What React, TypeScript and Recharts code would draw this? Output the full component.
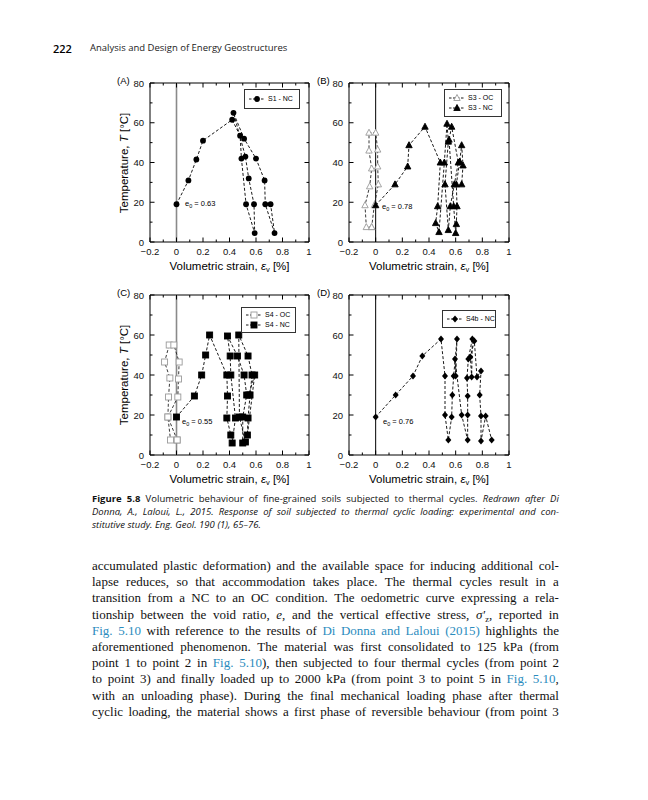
import React from 'react';
import { ScatterChart, Scatter, XAxis, YAxis, ReferenceLine, ReferenceArea } from 'recharts';

// ---------- axes ----------
const xTicks = [-0.2, -0.1, 0, 0.1, 0.2, 0.3, 0.4, 0.5, 0.6, 0.7, 0.8, 0.9, 1];
const yTicks = [0, 10, 20, 30, 40, 50, 60, 70, 80];

// ---------- data: [volumetric strain %, temperature °C] ----------
const s1NC: [number, number][] = [
  [0, 19], [0.09, 31], [0.15, 41.5], [0.2, 51], [0.42, 61.5], [0.48, 53.5], [0.49, 42],
  [0.525, 19], [0.59, 4.5], [0.585, 19], [0.545, 32], [0.52, 43], [0.43, 65], [0.51, 52],
  [0.6, 42], [0.665, 31], [0.67, 19], [0.74, 4.5], [0.71, 19],
];
const s3OC: [number, number][] = [
  [-0.03, 7.5], [-0.07, 7.5], [-0.08, 18.5], [-0.045, 28], [-0.03, 37], [-0.05, 46], [-0.05, 55],
  [0, 55], [0.015, 46.5], [0.015, 38], [0.02, 29], [-0.01, 18.5], [-0.03, 7.5],
];
const s3NC: [number, number][] = [
  [0, 18.5], [0.145, 29], [0.24, 38], [0.25, 48.7], [0.37, 58], [0.485, 40], [0.465, 18],
  [0.45, 9.5], [0.475, 5], [0.515, 40], [0.535, 59.5], [0.545, 50.5], [0.52, 29], [0.545, 6],
  [0.56, 18], [0.59, 29], [0.62, 40], [0.57, 58], [0.55, 51.5], [0.585, 18], [0.6, 4.5],
  [0.605, 9], [0.61, 18], [0.605, 29], [0.63, 40.5], [0.645, 48.7], [0.655, 38.5], [0.645, 29],
];
const s4OC: [number, number][] = [
  [0.005, 7.5], [-0.045, 7.5], [-0.065, 19], [-0.06, 29], [-0.05, 38.5], [-0.09, 46.5], [-0.055, 55],
  [-0.02, 55], [0.02, 46.5], [0.015, 38], [0.01, 29], [-0.065, 19], [0.005, 7.5],
];
const s4NC: [number, number][] = [
  [0, 19], [0.135, 29.5], [0.19, 40], [0.22, 50], [0.25, 60], [0.38, 40], [0.385, 29.5],
  [0.38, 18.5], [0.41, 10], [0.42, 6], [0.445, 18.5], [0.41, 40], [0.405, 49.5], [0.385, 59.5],
  [0.46, 49.5], [0.51, 40], [0.53, 30], [0.5, 19], [0.5, 6], [0.52, 6.5], [0.475, 19], [0.47, 60],
  [0.54, 49.5], [0.57, 40], [0.555, 30], [0.54, 18.5], [0.535, 10], [0.59, 40], [0.545, 30],
];
const s4bNC: [number, number][] = [
  [0, 19], [0.15, 30], [0.28, 39.5], [0.35, 49.5], [0.49, 58], [0.52, 39.5], [0.52, 20],
  [0.545, 7.5], [0.57, 19], [0.575, 30], [0.585, 39.5], [0.61, 58], [0.6, 39.5], [0.595, 48],
  [0.645, 20], [0.69, 7.5], [0.69, 20], [0.69, 29.5], [0.685, 38.5], [0.695, 48], [0.725, 58],
  [0.72, 39], [0.71, 49], [0.74, 57], [0.76, 39], [0.79, 42], [0.78, 30], [0.79, 19.5],
  [0.79, 7], [0.825, 19.5], [0.87, 7.5],
];

const e0Labels = ['0.63', '0.78', '0.55', '0.76'];

const toPts = (a: [number, number][]) => a.map(([x, y]) => ({ x, y }));

const FONT = '"Liberation Sans", Arial, sans-serif';

// ---------- markers ----------
type M = (cx: number, cy: number) => React.ReactElement;
const circleM: M = (cx, cy) => <circle cx={cx} cy={cy} r={2.9} fill="#000" />;
const triM = (fill: string, stroke: string): M => (cx, cy) => (
  <polygon points={`${cx},${cy - 3.5} ${cx - 3.2},${cy + 2.5} ${cx + 3.2},${cy + 2.5}`} fill={fill} stroke={stroke} strokeWidth={0.9} />
);
const sqM = (fill: string, stroke: string): M => (cx, cy) => (
  <rect x={cx - 3} y={cy - 3} width={6} height={6} fill={fill} stroke={stroke} strokeWidth={0.9} />
);
const diaM: M = (cx, cy) => (
  <polygon points={`${cx},${cy - 3.4} ${cx + 3},${cy} ${cx},${cy + 3.4} ${cx - 3},${cy}`} fill="#000" />
);

const blackTri = triM('#000', '#000');
const openTri = triM('#fff', '#9a9a9a');
const blackSq = sqM('#000', '#000');
const openSq = sqM('#fff', '#9a9a9a');

// ---------- ticks ----------
function makeXTick(plotH: number) {
  return (props: any) => {
    const { x, y, payload } = props;
    const v = payload.value as number;
    const major = Math.round(v * 10) % 2 === 0;
    const len = major ? 4.5 : 2.5;
    const label = v < 0 ? '\u2212' + Math.abs(v) : String(v);
    return (
      <g>
        <line x1={x} y1={y} x2={x} y2={y - len} stroke="#000" strokeWidth={1} />
        <line x1={x} y1={y - plotH} x2={x} y2={y - plotH + len} stroke="#000" strokeWidth={1} />
        {major && (
          <text x={x} y={y + 13} textAnchor="middle" fontSize={9.5} fontFamily={FONT} fill="#111">{label}</text>
        )}
      </g>
    );
  };
}
function makeYTick(plotW: number) {
  return (props: any) => {
    const { x, y, payload } = props;
    const v = payload.value as number;
    const major = v % 20 === 0;
    const len = major ? 4.5 : 2.5;
    return (
      <g>
        <line x1={x} y1={y} x2={x + len} y2={y} stroke="#000" strokeWidth={1} />
        <line x1={x + plotW} y1={y} x2={x + plotW - len} y2={y} stroke="#000" strokeWidth={1} />
        {major && (
          <text x={x - 6} y={y + 3.5} textAnchor="end" fontSize={9.5} fontFamily={FONT} fill="#111">{v}</text>
        )}
      </g>
    );
  };
}

type Series = { data: [number, number][]; marker: M; lineColor: string };

function Panel(props: { left: number; top: number; plotW: number; plotH: number; zeroColor: string; zeroWidth: number; series: Series[] }) {
  const { left, top, plotW, plotH, zeroColor, zeroWidth, series } = props;
  const W = plotW + 50;
  const H = plotH + 40;
  return (
    <div style={{ position: 'absolute', left, top }}>
      <ScatterChart width={W} height={H} margin={{ top: 10, right: 10, bottom: 0, left: 0 }}>
        <XAxis type="number" dataKey="x" domain={[-0.2, 1]} ticks={xTicks} interval={0} tickSize={0} tickMargin={0}
          axisLine={false} tickLine={false} tick={makeXTick(plotH)} height={30} allowDataOverflow />
        <YAxis type="number" dataKey="y" domain={[0, 80]} ticks={yTicks} interval={0} tickSize={0} tickMargin={0}
          axisLine={false} tickLine={false} tick={makeYTick(plotW)} width={40} allowDataOverflow />
        <ReferenceArea x1={-0.2} x2={1} y1={0} y2={80} fill="#fff" fillOpacity={0} stroke="#000" strokeWidth={1} />
        <ReferenceLine x={0} stroke={zeroColor} strokeWidth={zeroWidth} />
        {series.map((s, i) => (
          <Scatter key={i} data={toPts(s.data)} isAnimationActive={false}
            line={{ stroke: s.lineColor, strokeWidth: 0.9, strokeDasharray: '3 2' }} lineType="joint"
            shape={(p: any) => s.marker(p.cx, p.cy)} />
        ))}
      </ScatterChart>
    </div>
  );
}

function LegendBox(props: { left: number; top: number; width: number; height: number; rows: { label: string; marker: M }[] }) {
  const { left, top, width, height, rows } = props;
  return (
    <div style={{ position: 'absolute', left, top, width, height, border: '1px solid #333', boxSizing: 'border-box', background: '#fff',
      display: 'flex', flexDirection: 'column', justifyContent: 'center', paddingLeft: 4 }}>
      {rows.map((r, i) => (
        <div key={i} style={{ display: 'flex', alignItems: 'center', height: 10 }}>
          <svg width={15} height={10} style={{ overflow: 'visible', flex: 'none' }}>
            <line x1={0} y1={5} x2={15} y2={5} stroke="#000" strokeWidth={0.9} strokeDasharray="2.5 1.5" />
            {r.marker(8, 5)}
          </svg>
          <span style={{ marginLeft: 4, fontSize: 7, fontFamily: FONT, lineHeight: '10px', whiteSpace: 'nowrap' }}>{r.label}</span>
        </div>
      ))}
    </div>
  );
}

const txt = (left: number, top: number, extra: React.CSSProperties = {}): React.CSSProperties => ({
  position: 'absolute', left, top, whiteSpace: 'nowrap', lineHeight: 1, ...extra,
});

function XTitle({ cx, cy }: { cx: number; cy: number }) {
  return (
    <div style={txt(cx, cy - 6, { transform: 'translateX(-50%)', fontSize: 11.5, fontFamily: FONT })}>
      Volumetric strain, <i>ε</i><span style={{ fontSize: 7.5, verticalAlign: -2 }}>v</span> [%]
    </div>
  );
}
function YTitle({ cx, cy }: { cx: number; cy: number }) {
  return (
    <div style={txt(cx, cy, { transform: 'translate(-50%,-50%) rotate(-90deg)', fontSize: 11.5, fontFamily: FONT })}>
      Temperature, <i>T</i> [°C]
    </div>
  );
}
function E0({ left, cy, v }: { left: number; cy: number; v: string }) {
  return (
    <div style={txt(left, cy - 4, { fontSize: 7.5, fontFamily: FONT })}>
      e<span style={{ fontSize: 5.5, verticalAlign: -2 }}>0</span> = {v}
    </div>
  );
}

// ---------- justified text lines (flex, never wraps) ----------
const LINK = '#2b8cbe';
const w = (s: string): React.ReactNode[] => s.split(' ').filter(Boolean);
const link = (s: string): React.ReactNode[] => s.split(' ').map((t, i) => <span key={'l' + t + i} style={{ color: LINK }}>{t}</span>);
const it = (s: string): React.ReactNode[] => s.split(' ').map((t, i) => <i key={'i' + t + i}>{t}</i>);

function JLine({ words, h, justify = true }: { words: React.ReactNode[]; h: number; justify?: boolean }) {
  return (
    <div style={{ display: 'flex', justifyContent: justify ? 'space-between' : 'flex-start', columnGap: justify ? 0 : '0.27em',
      height: h, lineHeight: h + 'px', whiteSpace: 'nowrap' }}>
      {words.map((x, i) => <span key={i}>{x}</span>)}
    </div>
  );
}

const captionLines: React.ReactNode[][] = [
  [<b key="f">Figure</b>, <b key="n">5.8</b>, ...w('Volumetric behaviour of fine-grained soils subjected to thermal cycles.'), ...it('Redrawn after Di')],
  it('Donna, A., Laloui, L., 2015. Response of soil subjected to thermal cyclic loading: experimental and con-'),
  it('stitutive study. Eng. Geol. 190 (1), 65–76.'),
];

const bodyLines: React.ReactNode[][] = [
  w('accumulated plastic deformation) and the available space for inducing additional col-'),
  w('lapse reduces, so that accommodation takes place. The thermal cycles result in a'),
  w('transition from a NC to an OC condition. The oedometric curve expressing a rela-'),
  [...w('tionship between the void ratio,'), <><i>e</i>,</>, ...w('and the vertical effective stress,'),
    <><i>σ′</i><span style={{ fontSize: 8.5, verticalAlign: -3 }}>z</span>,</>, ...w('reported in')],
  [...link('Fig. 5.10'), ...w('with reference to the results of'), ...link('Di Donna and Laloui (2015)'), ...w('highlights the')],
  w('aforementioned phenomenon. The material was first consolidated to 125 kPa (from'),
  [...w('point 1 to point 2 in'), <span style={{ color: LINK }}>Fig.</span>, <><span style={{ color: LINK }}>5.10</span>),</>,
    ...w('then subjected to four thermal cycles (from point 2')],
  [...w('to point 3) and finally loaded up to 2000 kPa (from point 3 to point 5 in'), <span style={{ color: LINK }}>Fig.</span>,
    <><span style={{ color: LINK }}>5.10</span>,</>],
  w('with an unloading phase). During the final mechanical loading phase after thermal'),
  w('cyclic loading, the material shows a first phase of reversible behaviour (from point 3'),
];

export default function App() {
  return (
    <div style={{ position: 'absolute', left: 0, top: 0, width: 648, height: 800, background: '#fff', overflow: 'hidden' }}>
      {/* header */}
      <div style={txt(53, 43, { fontSize: 11, fontFamily: '"Open Sans", sans-serif', fontWeight: 600 })}>222</div>
      <div style={txt(90, 43, { fontSize: 9.5, fontFamily: '"Open Sans", sans-serif', color: '#222' })}>Analysis and Design of Energy Geostructures</div>

      {/* panels */}
      <Panel left={110} top={73} plotW={159} plotH={159} zeroColor="#8a8a8a" zeroWidth={1.6}
        series={[{ data: s1NC, marker: circleM, lineColor: '#000' }]} />
      <Panel left={309} top={73} plotW={160} plotH={159} zeroColor="#000" zeroWidth={1}
        series={[{ data: s3OC, marker: openTri, lineColor: '#222' }, { data: s3NC, marker: blackTri, lineColor: '#000' }]} />
      <Panel left={110} top={285} plotW={159} plotH={160} zeroColor="#8a8a8a" zeroWidth={1.6}
        series={[{ data: s4OC, marker: openSq, lineColor: '#222' }, { data: s4NC, marker: blackSq, lineColor: '#000' }]} />
      <Panel left={309} top={285} plotW={160} plotH={160} zeroColor="#000" zeroWidth={1}
        series={[{ data: s4bNC, marker: diaM, lineColor: '#000' }]} />

      {/* panel letters */}
      <div style={txt(117, 76, { fontSize: 9.5, fontFamily: FONT })}>(A)</div>
      <div style={txt(317, 76, { fontSize: 9.5, fontFamily: FONT })}>(B)</div>
      <div style={txt(117, 288, { fontSize: 9.5, fontFamily: FONT })}>(C)</div>
      <div style={txt(317, 288, { fontSize: 9.5, fontFamily: FONT })}>(D)</div>

      {/* legends */}
      <LegendBox left={244} top={89} width={56} height={20} rows={[{ label: 'S1 - NC', marker: circleM }]} />
      <LegendBox left={444} top={89} width={58} height={28} rows={[{ label: 'S3 - OC', marker: openTri }, { label: 'S3 - NC', marker: blackTri }]} />
      <LegendBox left={241} top={307} width={55} height={26} rows={[{ label: 'S4 - OC', marker: openSq }, { label: 'S4 - NC', marker: blackSq }]} />
      <LegendBox left={442} top={310} width={54} height={18} rows={[{ label: 'S4b - NC', marker: diaM }]} />

      {/* e0 annotations */}
      <E0 left={185} cy={204} v={e0Labels[0]} />
      <E0 left={382} cy={207} v={e0Labels[1]} />
      <E0 left={182} cy={422} v={e0Labels[2]} />
      <E0 left={383} cy={422} v={e0Labels[3]} />

      {/* axis titles */}
      <XTitle cx={229.5} cy={267} />
      <XTitle cx={429} cy={267} />
      <XTitle cx={229.5} cy={480} />
      <XTitle cx={429} cy={480} />
      <YTitle cx={125} cy={163} />
      <YTitle cx={125} cy={375} />

      {/* caption */}
      <div style={{ position: 'absolute', left: 92, top: 492, width: 467, fontFamily: '"Open Sans", sans-serif', fontSize: 9.5, color: '#111' }}>
        <JLine words={captionLines[0]} h={13} />
        <JLine words={captionLines[1]} h={13} />
        <JLine words={captionLines[2]} h={13} justify={false} />
      </div>

      {/* body text */}
      <div style={{ position: 'absolute', left: 92, top: 558, width: 467, fontFamily: '"Liberation Serif", serif', fontSize: 13, color: '#111' }}>
        {bodyLines.map((ws, i) => <JLine key={i} words={ws} h={16.2} />)}
      </div>
    </div>
  );
}
